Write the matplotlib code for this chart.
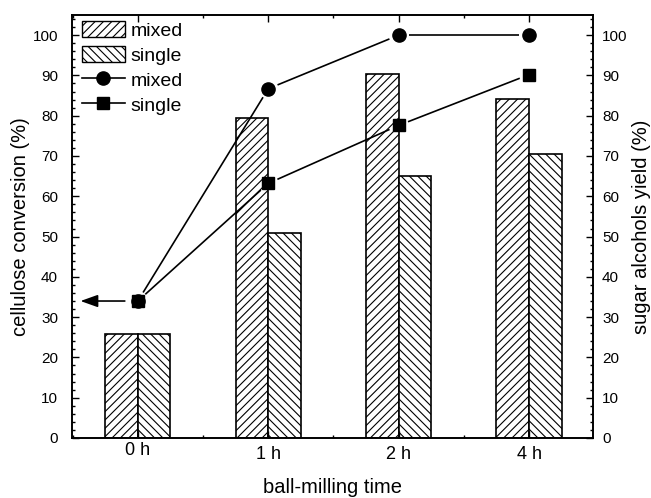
import matplotlib
matplotlib.use("Agg")
import matplotlib.pyplot as plt
import numpy as np
from matplotlib.patches import Patch
from matplotlib.lines import Line2D
from matplotlib.ticker import MultipleLocator
from matplotlib.transforms import ScaledTranslation

plt.rcParams['font.family'] = ['Liberation Sans', 'DejaVu Sans']
plt.rcParams['hatch.linewidth'] = 0.8

categories = ['0 h', '1 h', '2 h', '4 h']
bar_mixed = [25.8, 79.5, 90.4, 84.2]
bar_single = [25.8, 50.8, 65.0, 70.6]
line_mixed = [34.0, 86.7, 100.0, 100.0]
line_single = [34.0, 63.2, 77.6, 90.2]

fig = plt.figure(figsize=(6.51, 4.98), dpi=100)
ax = fig.add_axes([0.1106, 0.1205, 0.8003, 0.8494])
ax2 = ax.twinx()

x = np.arange(len(categories))
w = 0.25
ax.bar(x - w/2, bar_mixed, w, facecolor='white', edgecolor='black', hatch='////', linewidth=1.2)
ax.bar(x + w/2, bar_single, w, facecolor='white', edgecolor='black', hatch='\\\\\\\\', linewidth=1.2)

for a in (ax, ax2):
    a.set_ylim(0, 105)
    a.set_xlim(-0.505, 3.49)
    a.yaxis.set_major_locator(MultipleLocator(10))
    a.yaxis.set_minor_locator(MultipleLocator(2))
    for s in a.spines.values():
        s.set_linewidth(1.2)

ax.set_xticks(x)
ax.set_xticklabels(categories)
ax.xaxis.set_minor_locator(MultipleLocator(0.5))
ax.tick_params(axis='both', which='both', direction='in', top=True, right=False, width=1.0)
ax.tick_params(axis='both', which='major', length=5)
ax.tick_params(axis='both', which='minor', length=2.5)
ax.tick_params(axis='y', which='major', labelsize=11, pad=10)
ax.tick_params(axis='x', which='major', labelsize=13, pad=6)
ax2.tick_params(axis='y', which='both', direction='in', width=1.0)
ax2.tick_params(axis='y', which='major', length=5, labelsize=11, pad=6.5)
ax2.tick_params(axis='y', which='minor', length=2.5)

# first tick label sits slightly higher in the original
lbl0 = ax.get_xticklabels()[0]
lbl0.set_transform(lbl0.get_transform() + ScaledTranslation(0, 3/72, fig.dpi_scale_trans))

ax.set_ylabel('cellulose conversion (%)', fontsize=14.5, labelpad=2)
ax2.set_ylabel('sugar alcohols yield (%)', fontsize=14.5, labelpad=3)
ax.set_xlabel('ball-milling time', fontsize=14.5, labelpad=10.5)

# lines with gaps around markers (Origin style)
fig.canvas.draw()
gap = 10.0
def gapped_line(ax_, xs, ys):
    pts = ax_.transData.transform(np.column_stack([xs, ys]))
    inv = ax_.transData.inverted()
    for p0, p1 in zip(pts[:-1], pts[1:]):
        d = p1 - p0
        L = np.hypot(*d)
        u = d / L
        a0 = inv.transform(p0 + u * gap)
        a1 = inv.transform(p1 - u * gap)
        ax_.plot([a0[0], a1[0]], [a0[1], a1[1]], color='black', lw=1.2, solid_capstyle='butt')

gapped_line(ax2, x, line_single)
gapped_line(ax2, x, line_mixed)
ax2.plot(x, line_single, linestyle='none', marker='s', ms=8.5, color='black')
ax2.plot(x, line_mixed, linestyle='none', marker='o', ms=9.5, color='black')

ax2.annotate('', xy=(-0.44, line_mixed[0]), xytext=(-0.1, line_mixed[0]),
             arrowprops=dict(arrowstyle='-|>,head_length=0.7,head_width=0.25',
                             color='black', lw=1.2, mutation_scale=15, shrinkA=0, shrinkB=0))

handles = [
    Patch(facecolor='white', edgecolor='black', hatch='////', linewidth=1.0),
    Patch(facecolor='white', edgecolor='black', hatch='\\\\\\\\', linewidth=1.0),
    Line2D([], [], color='black', lw=1.2, marker='o', ms=9.5),
    Line2D([], [], color='black', lw=1.2, marker='s', ms=8.5),
]
labels = ['mixed', 'single', 'mixed', 'single']
ax2.legend(handles, labels, loc='upper left', frameon=False, fontsize=14,
           handlelength=2.2, handleheight=0.85, labelspacing=0.33, handletextpad=0.3,
           borderaxespad=0.0, borderpad=0.0, bbox_to_anchor=(0.019, 0.985))

fig.savefig('out.png', dpi=100)
